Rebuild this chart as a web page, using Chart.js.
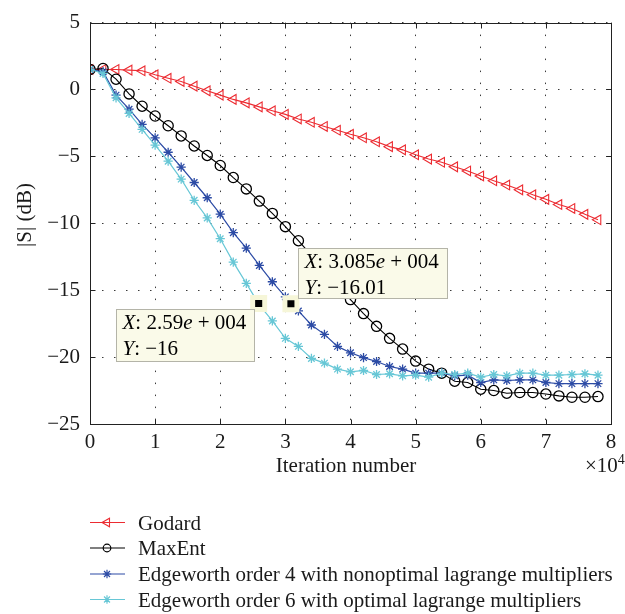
<!DOCTYPE html>
<html>
<head>
<meta charset="utf-8">
<script src="https://cdn.jsdelivr.net/npm/chart.js@4.4.1/dist/chart.umd.min.js"></script>
<style>
html,body{margin:0;padding:0;background:#fff;}
#wrap{width:625px;height:614px;position:relative;}
</style>
</head>
<body>
<div id="wrap"><canvas id="c" width="625" height="614"></canvas></div>
<script>
// ---------------- data ----------------
const iterations = [0, 2000, 4000, 6000, 8000, 10000, 12000, 14000, 16000, 18000,
  20000, 22000, 24000, 26000, 28000, 30000, 32000, 34000, 36000, 38000,
  40000, 42000, 44000, 46000, 48000, 50000, 52000, 54000, 56000, 58000,
  60000, 62000, 64000, 66000, 68000, 70000, 72000, 74000, 76000, 78000];

const godard = [1.5, 1.5, 1.5, 1.45, 1.4, 1.1, 0.84, 0.6, 0.25, -0.1,
  -0.42, -0.74, -1.0, -1.3, -1.59, -1.86, -2.2, -2.45, -2.76, -3.05,
  -3.35, -3.61, -3.91, -4.27, -4.51, -4.88, -5.2, -5.44, -5.78, -6.09,
  -6.46, -6.82, -7.14, -7.5, -7.87, -8.21, -8.6, -8.89, -9.33, -9.74];

const maxEnt = [1.5, 1.57, 0.77, -0.33, -1.25, -1.98, -2.71, -3.47, -4.22, -4.93,
  -5.68, -6.58, -7.43, -8.34, -9.26, -10.25, -11.3, -12.4, -13.5, -14.6,
  -15.7, -16.75, -17.7, -18.6, -19.4, -20.3, -20.9, -21.2, -21.8, -21.9,
  -22.4, -22.5, -22.7, -22.65, -22.65, -22.76, -22.9, -23.0, -23.0, -22.95];

const edgeworth4 = [1.5, 1.33, -0.42, -1.47, -2.61, -3.61, -4.69, -5.8, -6.95, -8.09,
  -9.32, -10.7, -11.86, -13.15, -14.37, -15.5, -16.55, -17.6, -18.3, -19.2,
  -19.68, -20.04, -20.33, -20.7, -20.9, -21.2, -21.2, -21.2, -21.4, -21.35,
  -21.9, -21.7, -21.75, -21.7, -21.7, -21.9, -21.98, -21.98, -21.98, -21.98];

const edgeworth6 = [1.5, 1.2, -0.62, -1.79, -2.98, -4.15, -5.36, -6.7, -8.28, -9.6,
  -11.15, -12.9, -14.49, -16.1, -17.3, -18.6, -19.2, -20.1, -20.45, -20.9,
  -21.1, -21.0, -21.3, -21.25, -21.4, -21.35, -21.5, -21.2, -21.3, -21.2,
  -21.5, -21.3, -21.4, -21.2, -21.2, -21.35, -21.35, -21.3, -21.25, -21.35];

const seriesNames = ['Godard', 'MaxEnt',
  'Edgeworth order 4 with nonoptimal lagrange multipliers',
  'Edgeworth order 6 with optimal lagrange multipliers'];

// data tips (x, y) and their texts
const tipX = [25900, 30850];
const tipY = [-16, -16.01];
const tipXText = ['2.59', '3.085'];
const tipXExp = ['004', '004'];
const tipYText = ['\u221216', '\u221216.01'];

const xTickValues = [0, 10000, 20000, 30000, 40000, 50000, 60000, 70000, 80000];
const xTickLabels = ['0', '1', '2', '3', '4', '5', '6', '7', '8'];
const yTickValues = [5, 0, -5, -10, -15, -20, -25];
const yTickLabels = ['5', '0', '\u22125', '\u221210', '\u221215', '\u221220', '\u221225'];

// ---------------- styles ----------------
const FONT = '"Liberation Serif", "Times New Roman", serif';
const TXT = '#1a1a1a';
const colors = ['#ec2b31', '#000000', '#2c4ba5', '#67c7d6'];

function pts(ys){ return iterations.map((x,i)=>({x:x, y:ys[i]})); }

const datasets = [
  {label: seriesNames[0], data: pts(godard), borderColor: colors[0], backgroundColor:'rgba(0,0,0,0)',
   borderWidth:1.1, pointStyle:'triangle', rotation:-90, pointRadius:5.6, pointBorderWidth:1.1,
   pointBackgroundColor:'rgba(0,0,0,0)', pointBorderColor: colors[0], order:4},
  {label: seriesNames[1], data: pts(maxEnt), borderColor: colors[1], backgroundColor:'rgba(0,0,0,0)',
   borderWidth:1.1, pointStyle:'circle', pointRadius:5.1, pointBorderWidth:1.3,
   pointBackgroundColor:'rgba(0,0,0,0)', pointBorderColor: colors[1], order:3},
  {label: seriesNames[2], data: pts(edgeworth4), borderColor: colors[2], backgroundColor:'rgba(0,0,0,0)',
   borderWidth:1.2, pointStyle:'star', pointRadius:4.6, pointBorderWidth:1.3,
   pointBackgroundColor:'rgba(0,0,0,0)', pointBorderColor: colors[2], order:2},
  {label: seriesNames[3], data: pts(edgeworth6), borderColor: colors[3], backgroundColor:'rgba(0,0,0,0)',
   borderWidth:1.2, pointStyle:'star', pointRadius:4.6, pointBorderWidth:1.3,
   pointBackgroundColor:'rgba(0,0,0,0)', pointBorderColor: colors[3], order:1},
  {label:'tipBg', data: tipX.map((x,i)=>({x:x,y:tipY[i]})), showLine:false, pointStyle:'rect',
   pointRadius:12, pointBackgroundColor:'#f6f6d8', pointBorderColor:'rgba(0,0,0,0)', pointBorderWidth:0, order:0},
  {label:'tipFg', data: tipX.map((x,i)=>({x:x,y:tipY[i]})), showLine:false, pointStyle:'rect',
   pointRadius:5, pointBackgroundColor:'#000', pointBorderColor:'#000', pointBorderWidth:0, order:-1}
];

function drawMarker(ctx, style, x, y, r, color, rot, bw){
  Chart.helpers.drawPoint(ctx, {pointStyle: style, rotation: rot||0, radius: r, borderWidth: bw}, x, y);
}

const decor = {
  id:'decor',
  afterDraw(chart){
    const ctx = chart.ctx;
    const a = chart.chartArea;
    const xs = chart.scales.x, ys = chart.scales.y;
    ctx.save();
    // axes box
    ctx.strokeStyle = '#222';
    ctx.lineWidth = 1;
    const L = Math.round(a.left)+0.5, R = Math.round(a.right)+0.5, T = Math.round(a.top)+0.5, B = Math.round(a.bottom)+0.5;
    ctx.strokeRect(L, T, R-L, B-T);
    // inward ticks
    const tl = 5;
    ctx.beginPath();
    xTickValues.forEach(v=>{
      const px = Math.round(xs.getPixelForValue(v))+0.5;
      ctx.moveTo(px, B); ctx.lineTo(px, B-tl);
      ctx.moveTo(px, T); ctx.lineTo(px, T+tl);
    });
    yTickValues.forEach(v=>{
      const py = Math.round(ys.getPixelForValue(v))+0.5;
      ctx.moveTo(L, py); ctx.lineTo(L+tl, py);
      ctx.moveTo(R, py); ctx.lineTo(R-tl, py);
    });
    ctx.stroke();

    // axis titles
    ctx.fillStyle = TXT;
    ctx.font = '21px ' + FONT;
    ctx.textAlign = 'center';
    ctx.textBaseline = 'alphabetic';
    ctx.fillText('Iteration number', 346, 472);
    // x10^4
    ctx.textAlign = 'left';
    ctx.fillText('\u00d710', 585, 472);
    const w10 = ctx.measureText('\u00d710').width;
    ctx.font = '14px ' + FONT;
    ctx.fillText('4', 585 + w10, 464);
    // y title
    ctx.save();
    ctx.translate(31, 215);
    ctx.rotate(-Math.PI/2);
    ctx.font = '21px ' + FONT;
    ctx.textAlign = 'center';
    ctx.fillText('|S| (dB)', 0, 0);
    ctx.restore();

    // data tip boxes
    const boxes = [
      {dx:-143, dy:5, w:138, h:52},
      {dx:7, dy:-56, w:149, h:50}
    ];
    tipX.forEach((tx,i)=>{
      const px = xs.getPixelForValue(tx), py = ys.getPixelForValue(tipY[i]);
      const b = boxes[i];
      const bx = Math.round(px + b.dx)+0.5, by = Math.round(py + b.dy)+0.5;
      ctx.fillStyle = '#fafae9';
      ctx.strokeStyle = '#b4b4a8';
      ctx.lineWidth = 1;
      ctx.fillRect(bx, by, b.w, b.h);
      ctx.strokeRect(bx, by, b.w, b.h);
      ctx.fillStyle = '#000';
      ctx.textAlign = 'left';
      const tx0 = bx + 6;
      let x = tx0;
      const seg = (t, it) => { ctx.font = (it?'italic ':'') + '21px ' + FONT; ctx.fillText(t, x, y); x += ctx.measureText(t).width; };
      let y = by + 19;
      seg('X', true); seg(': ' + tipXText[i], false); seg('e', true); seg(' + ' + tipXExp[i], false);
      x = tx0; y = by + 45;
      seg('Y', true); seg(': ' + tipYText[i], false);
    });

    // legend
    const rowsY = [522.5, 548, 574, 599.5];
    const styles = [
      {ps:'triangle', rot:-90, r:5, bw:1.1},
      {ps:'circle', rot:0, r:3.8, bw:1.2},
      {ps:'star', rot:0, r:4.2, bw:1.2},
      {ps:'star', rot:0, r:4.2, bw:1.2}
    ];
    seriesNames.forEach((name,i)=>{
      const y = rowsY[i];
      ctx.strokeStyle = colors[i];
      ctx.lineWidth = 1.2;
      ctx.beginPath(); ctx.moveTo(90, y); ctx.lineTo(125, y); ctx.stroke();
      ctx.fillStyle = 'rgba(0,0,0,0)';
      ctx.strokeStyle = colors[i];
      ctx.lineWidth = styles[i].bw;
      drawMarker(ctx, styles[i].ps, 107, y, styles[i].r, colors[i], styles[i].rot, styles[i].bw);
      ctx.fillStyle = TXT;
      ctx.font = '21px ' + FONT;
      ctx.textAlign = 'left';
      ctx.textBaseline = 'alphabetic';
      ctx.fillText(name, 138, y + 7);
    });
    ctx.restore();
  }
};

new Chart(document.getElementById('c'), {
  type: 'line',
  data: {datasets: datasets},
  options: {
    responsive:false, animation:false, devicePixelRatio:1,
    layout:{padding:{top:13, right:14, left:0, bottom:0}},
    plugins:{legend:{display:false}, tooltip:{enabled:false}},
    elements:{line:{tension:0}},
    scales:{
      x:{type:'linear', min:0, max:80000,
        afterFit(s){ s.height = 190; },
        afterBuildTicks(s){ s.ticks = xTickValues.map(v=>({value:v})); },
        ticks:{callback:(v)=>xTickLabels[xTickValues.indexOf(v)], font:{family:FONT, size:21}, color:TXT, padding:6, maxRotation:0, autoSkip:false},
        grid:{color:'#3a3a3a', lineWidth:1, drawTicks:false},
        border:{display:false, dash:[1.5,10.5]}
      },
      y:{type:'linear', min:-25, max:5,
        afterFit(s){ s.width = 90; },
        afterBuildTicks(s){ s.ticks = yTickValues.map(v=>({value:v})); },
        ticks:{callback:(v)=>yTickLabels[yTickValues.indexOf(v)], font:{family:FONT, size:21}, color:TXT, padding:10, autoSkip:false},
        grid:{color:'#3a3a3a', lineWidth:1, drawTicks:false},
        border:{display:false, dash:[1.5,10.5]}
      }
    }
  },
  plugins:[decor]
});
</script>
</body>
</html>
